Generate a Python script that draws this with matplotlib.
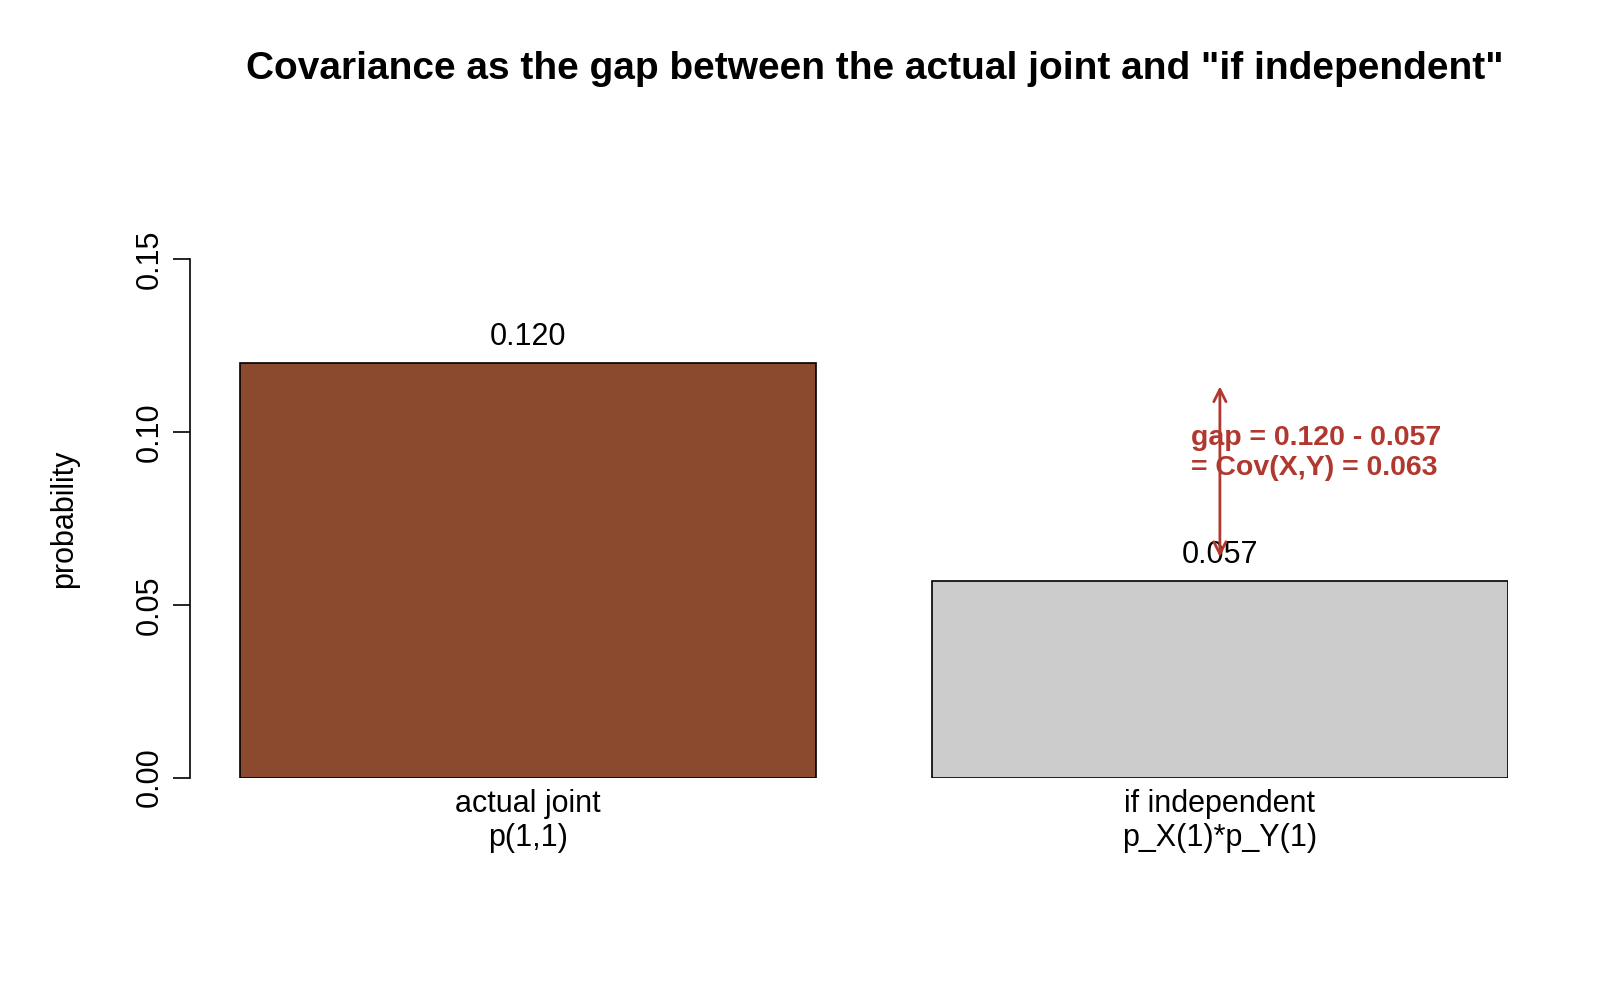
import matplotlib
matplotlib.use("Agg")
import matplotlib.pyplot as plt

plt.rcParams['font.family'] = ['Liberation Sans', 'DejaVu Sans']

categories = ["actual joint\np(1,1)", "if independent\np_X(1)*p_Y(1)"]
values = [0.120, 0.057]
colors = ["#8B4A2E", "#CCCCCC"]
gap = values[0] - values[1]

W, H = 1568, 980  # reference measured in this pixel frame
fig = plt.figure(figsize=(16, 10), dpi=100)
left, right, top, bottom = 186, 1478, 254, 762
ax = fig.add_axes([left / W, 1 - bottom / H, (right - left) / W, (bottom - top) / H])

pos = [0.7, 1.9]
ax.bar(pos, values, width=1.0, color=colors, edgecolor="black", linewidth=1.2)
ax.set_xlim(0.2 - 49 / 565, 2.4)
ax.set_ylim(0, 0.15)
for s in ["top", "right", "bottom"]:
    ax.spines[s].set_visible(False)
ax.spines["left"].set_linewidth(1.2)
ax.set_yticks([0, 0.05, 0.10, 0.15])
ax.set_yticklabels(["0.00", "0.05", "0.10", "0.15"], rotation=90, va="center", fontsize=22)
ax.tick_params(axis="y", length=12, width=1.2, pad=6)
ax.set_xticks(pos)
ax.set_xticklabels(categories, fontsize=22, linespacing=1.2)
ax.tick_params(axis="x", length=0, pad=8)
ax.set_ylabel("probability", fontsize=22, labelpad=40)

for p, v in zip(pos, values):
    ax.text(p, v + 0.003, f"{v:.3f}", ha="center", va="bottom", fontsize=22)

red = "#B0382E"
ax.annotate("", xy=(pos[1], values[0] - 0.006), xytext=(pos[1], values[1] + 0.006),
            arrowprops=dict(arrowstyle="<->", color=red, lw=2, mutation_scale=22))
ax.text(pos[1] - 0.05, 0.094, f"gap = {values[0]:.3f} - {values[1]:.3f}\n= Cov(X,Y) = {gap:.3f}",
        color=red, fontsize=20.5, fontweight="bold", ha="left", va="center", linespacing=1.2)

fig.text(857 / W, 1 - 68 / H, 'Covariance as the gap between the actual joint and "if independent"',
         ha="center", va="center", fontsize=28, fontweight="bold")
fig.savefig("out.png", dpi=100)
